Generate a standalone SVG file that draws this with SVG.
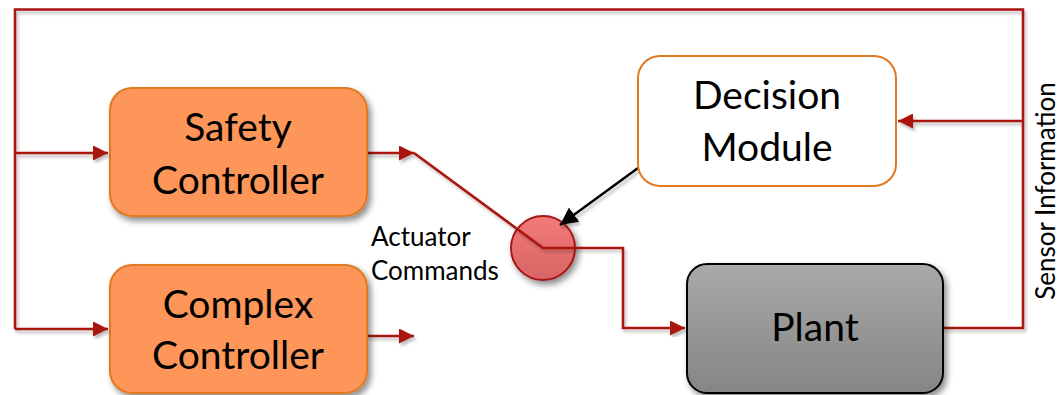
<svg xmlns="http://www.w3.org/2000/svg" width="1059" height="395" viewBox="0 0 1059 395">
  <defs>
    <style>
      .wire { fill: none; stroke: #A8140E; stroke-width: 2.5; stroke-linejoin: miter; }
      .ctrl { fill: #FD9659; stroke: #E07A22; stroke-width: 2; }
      .label { font-family: Lato, "Open Sans", "DejaVu Sans", sans-serif; fill: #000; text-anchor: middle; }
      .big { font-size: 39px; }
      .small { font-size: 26px; text-anchor: start; }
    </style>
    <marker id="redHead" viewBox="0 0 10 10" refX="10" refY="5" markerWidth="6" markerHeight="6" markerUnits="strokeWidth" orient="auto">
      <path d="M0,0 L10,5 L0,10 z" fill="#A8140E"/>
    </marker>
    <marker id="blackHead" viewBox="0 0 10 10" refX="10" refY="5" markerWidth="7" markerHeight="7" markerUnits="strokeWidth" orient="auto">
      <path d="M0,0 L10,5 L0,10 z" fill="#000"/>
    </marker>
    <filter id="shadow" x="-20%" y="-20%" width="140%" height="150%">
      <feDropShadow dx="3" dy="4" stdDeviation="3" flood-color="#000" flood-opacity="0.45"/>
    </filter>
    <filter id="lineShadow" x="-5%" y="-5%" width="110%" height="110%">
      <feDropShadow dx="2" dy="3" stdDeviation="1.5" flood-color="#000" flood-opacity="0.25"/>
    </filter>
    <linearGradient id="plantFill" x1="0" y1="0" x2="0" y2="1">
      <stop offset="0" stop-color="#A9A9A9"/>
      <stop offset="1" stop-color="#858585"/>
    </linearGradient>
    <linearGradient id="mixFill" x1="0" y1="0" x2="0" y2="1">
      <stop offset="0" stop-color="#F47A7A"/>
      <stop offset="1" stop-color="#D86464"/>
    </linearGradient>
  </defs>

  <!-- connectors -->
  <g id="connectors" filter="url(#lineShadow)">
    <!-- sensor feedback loop -->
    <path class="wire" d="M943,328 H1023 V9.5 H15 V329"/>
    <path class="wire" d="M1023,121 H898" marker-end="url(#redHead)"/>
    <path class="wire" d="M15,153 H108" marker-end="url(#redHead)"/>
    <path class="wire" d="M15,329 H108" marker-end="url(#redHead)"/>
    <!-- controller outputs -->
    <path class="wire" d="M367,153 H414" marker-end="url(#redHead)"/>
    <path class="wire" d="M367,336 H414" marker-end="url(#redHead)"/>
  </g>

  <!-- switch node -->
  <g id="switch">
    <circle cx="543" cy="248" r="32" fill="url(#mixFill)" stroke="#A51818" stroke-width="2" filter="url(#shadow)"/>
  </g>

  <g id="switch-wires" filter="url(#lineShadow)">
    <path class="wire" d="M414,153 L543,248 H623 V328 H685" marker-end="url(#redHead)"/>
    <path d="M638,168 L560,225" fill="none" stroke="#000" stroke-width="2.5" marker-end="url(#blackHead)"/>
  </g>

  <!-- nodes -->
  <g id="safety-controller">
    <rect class="ctrl" x="110" y="88" width="257" height="128" rx="22" filter="url(#shadow)"/>
    <text class="label big" x="238" y="141">Safety</text>
    <text class="label big" x="238" y="194">Controller</text>
  </g>

  <g id="complex-controller">
    <rect class="ctrl" x="110" y="265" width="257" height="128" rx="22" filter="url(#shadow)"/>
    <text class="label big" x="238" y="318">Complex</text>
    <text class="label big" x="238" y="369">Controller</text>
  </g>

  <g id="decision-module">
    <rect x="638" y="56" width="258" height="130" rx="22" fill="#fff" stroke="#E07A22" stroke-width="2"/>
    <text class="label big" x="767" y="109">Decision</text>
    <text class="label big" x="767" y="161">Module</text>
  </g>

  <g id="plant">
    <rect x="687" y="264" width="256" height="129" rx="20" fill="url(#plantFill)" stroke="#000" stroke-width="2" filter="url(#shadow)"/>
    <text class="label big" x="815" y="341">Plant</text>
  </g>

  <!-- labels -->
  <g id="labels">
    <text class="label small" x="371" y="246">Actuator</text>
    <text class="label small" x="371" y="280">Commands</text>
    <text class="label" font-size="26" transform="translate(1055,191) rotate(-90)">Sensor Information</text>
  </g>
</svg>
